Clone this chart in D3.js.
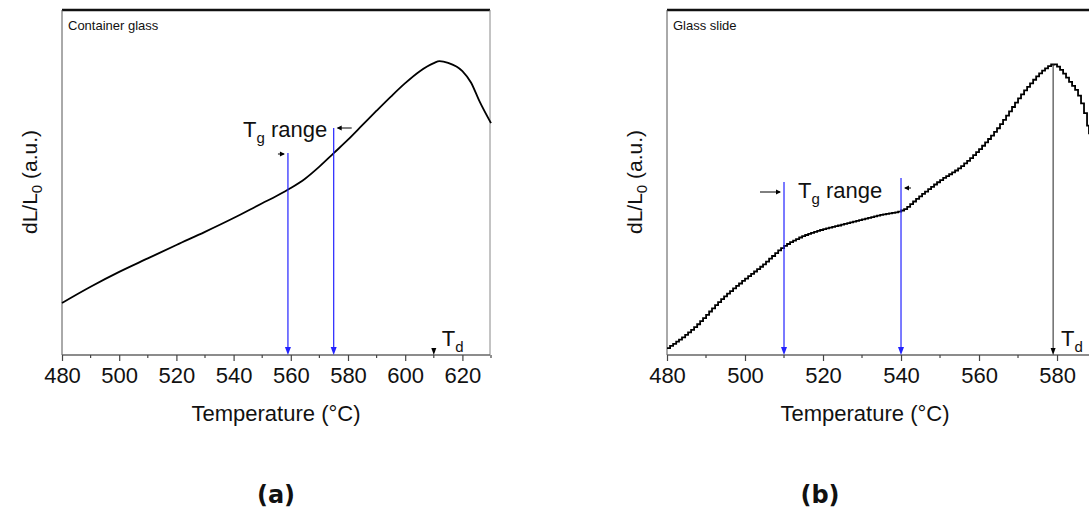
<!DOCTYPE html>
<html>
<head>
<meta charset="utf-8">
<script src="https://cdn.jsdelivr.net/npm/d3@7"></script>
<style>
    body { margin: 0; background: #fff; }
    svg { display: block; font-family: "Liberation Sans", Arial, sans-serif; }
</style>
</head>
<body>
<svg id="chart" width="1089" height="522"></svg>
<script>
// Panel (a) - container glass (arbitrary units)
const tempsA = [480, 490, 500, 510, 520, 530, 540, 550, 555, 560, 565, 570, 575, 580, 585, 590, 595, 600, 605, 610, 612, 615, 620, 623, 626, 630];
const valuesA = [15.1, 19.8, 24.1, 28.0, 31.9, 35.7, 39.7, 44.0, 46.1, 48.4, 51.1, 54.6, 58.5, 62.4, 66.6, 70.8, 74.9, 78.8, 82.2, 84.6, 85.2, 84.7, 82.3, 79.0, 73.5, 67.2];

// Panel (b) - glass slide
const tempsB = [480, 486.7, 493.6, 500.5, 503.8, 510, 513.6, 518, 524.4, 530, 534.6, 540.3, 544.1, 550, 555.1, 563.6, 572.3, 576.4, 579, 580.8, 583.3, 585.1, 586.7, 588.2];
const valuesB = [2.0, 7.8, 15.9, 22.6, 25.5, 31.6, 33.9, 35.8, 37.7, 39.3, 40.6, 42.0, 45.5, 50.7, 54.5, 64.3, 77.7, 82.6, 84.3, 82.6, 78.8, 75.9, 71.0, 64.0];

const xTicksA = [480, 500, 520, 540, 560, 580, 600, 620];
const xTicksB = [480, 500, 520, 540, 560, 580];

const tgRangeA = [559, 575];
const tgRangeB = [510, 540];
const tdA = 610;
const tdB = 579;

const svg = d3.select("#chart");

function drawPanel(cfg) {
    const x = d3.scaleLinear().domain(cfg.xDomain).range([cfg.left, cfg.right]);
    const y = d3.scaleLinear().domain([0, 100]).range([cfg.bottom, cfg.top]);
    const g = svg.append("g");

    // frame: black top, grey sides
    g.append("line")
        .attr("x1", cfg.left).attr("x2", cfg.frameRight)
        .attr("y1", cfg.top).attr("y2", cfg.top)
        .attr("stroke", "#111").attr("stroke-width", 2.5);
    g.append("line")
        .attr("x1", cfg.left).attr("x2", cfg.left)
        .attr("y1", cfg.top).attr("y2", cfg.bottom)
        .attr("stroke", "#555").attr("stroke-width", 1);
    if (cfg.rightBorder) {
        g.append("line")
            .attr("x1", cfg.frameRight).attr("x2", cfg.frameRight)
            .attr("y1", cfg.top).attr("y2", cfg.bottom)
            .attr("stroke", "#888").attr("stroke-width", 1);
    }

    // x axis with minor ticks
    const minor = d3.range(cfg.xDomain[0], cfg.xDomain[1] + 0.01, 10).filter(v => !cfg.ticks.includes(v));
    const xAxis = g.append("g")
        .attr("transform", `translate(0,${cfg.bottom})`)
        .call(d3.axisBottom(x).tickValues(cfg.ticks).tickSize(6).tickSizeOuter(0).tickPadding(6).tickFormat(d3.format("d")));
    xAxis.select(".domain").attr("stroke", "#666").attr("stroke-width", 1.6)
        .attr("d", `M${cfg.left},0H${cfg.frameRight}`);
    xAxis.selectAll(".tick line").attr("stroke", "#444").attr("stroke-width", 1.2);
    xAxis.selectAll(".tick text").attr("font-size", 22).attr("fill", "#111")
        .attr("font-family", "Liberation Sans, Arial, sans-serif");
    g.append("g").selectAll("line").data(minor).join("line")
        .attr("x1", d => x(d)).attr("x2", d => x(d))
        .attr("y1", cfg.bottom).attr("y2", cfg.bottom + 3)
        .attr("stroke", "#444").attr("stroke-width", 1.2);

    // curve
    const line = d3.line().x(d => x(d[0])).y(d => y(d[1])).curve(d3.curveMonotoneX);
    const pts = cfg.temps.map((t, i) => [t, cfg.values[i]]);
    if (!cfg.stepped) {
        g.append("path").attr("d", line(pts))
            .attr("fill", "none").attr("stroke", "#000").attr("stroke-width", 1.8);
    } else {
        // trace the smooth path, then redraw it as a staircase like the instrument output
        const tmp = g.append("path").attr("d", line(pts)).attr("fill", "none");
        const node = tmp.node();
        const len = node.getTotalLength();
        const steps = [];
        let nextX = cfg.left;
        for (let l = 0; l <= len; l += 0.25) {
            const p = node.getPointAtLength(l);
            if (p.x >= nextX) {
                steps.push([p.x, p.y]);
                nextX += 3;
            }
        }
        const end = node.getPointAtLength(len);
        steps.push([end.x, end.y]);
        tmp.remove();
        g.append("path")
            .attr("d", d3.line().curve(d3.curveStepAfter)(steps))
            .attr("fill", "none").attr("stroke", "#000").attr("stroke-width", 1.8);
    }

    // Tg range lines (blue) with down arrows
    cfg.tg.forEach((t, i) => {
        const xp = x(t);
        g.append("line")
            .attr("x1", xp).attr("x2", xp)
            .attr("y1", cfg.tgTops[i]).attr("y2", cfg.bottom - 6)
            .attr("stroke", "#2222ff").attr("stroke-width", 1.2);
        g.append("path")
            .attr("d", `M${xp - 3},${cfg.bottom - 8}L${xp + 3},${cfg.bottom - 8}L${xp},${cfg.bottom}Z`)
            .attr("fill", "#2222ff");
    });

    // small black arrows pointing at the Tg lines
    const arrows = g.append("g");
    const a0 = cfg.arrows[0], a1 = cfg.arrows[1];
    arrows.append("line").attr("x1", x(cfg.tg[0]) - a0.len).attr("x2", x(cfg.tg[0]) - 4)
        .attr("y1", a0.y).attr("y2", a0.y).attr("stroke", "#000").attr("stroke-width", 1);
    arrows.append("path")
        .attr("d", `M${x(cfg.tg[0]) - 8},${a0.y - 2.5}L${x(cfg.tg[0]) - 3},${a0.y}L${x(cfg.tg[0]) - 8},${a0.y + 2.5}Z`)
        .attr("fill", "#000");
    arrows.append("line").attr("x1", x(cfg.tg[1]) + 4).attr("x2", x(cfg.tg[1]) + a1.len)
        .attr("y1", a1.y).attr("y2", a1.y).attr("stroke", "#000").attr("stroke-width", 1);
    arrows.append("path")
        .attr("d", `M${x(cfg.tg[1]) + 8},${a1.y - 2.5}L${x(cfg.tg[1]) + 3},${a1.y}L${x(cfg.tg[1]) + 8},${a1.y + 2.5}Z`)
        .attr("fill", "#000");

    const tgText = g.append("text")
        .attr("x", cfg.tgLabel[0]).attr("y", cfg.tgLabel[1])
        .attr("font-size", 22).attr("fill", "#111");
    tgText.append("tspan").text("T");
    tgText.append("tspan").attr("font-size", 15).attr("dy", 6).text("g");
    tgText.append("tspan").attr("dy", -6).text(" range");

    // Td marker
    const xd = x(cfg.td);
    g.append("line").attr("x1", xd).attr("x2", xd)
        .attr("y1", cfg.tdTop).attr("y2", cfg.bottom - 5)
        .attr("stroke", "#222").attr("stroke-width", 1);
    g.append("path")
        .attr("d", `M${xd - 2.5},${cfg.bottom - 7}L${xd + 2.5},${cfg.bottom - 7}L${xd},${cfg.bottom}Z`)
        .attr("fill", "#000");
    const tdText = g.append("text")
        .attr("x", xd + 8).attr("y", cfg.bottom - 9)
        .attr("font-size", 22).attr("fill", "#111");
    tdText.append("tspan").text("T");
    tdText.append("tspan").attr("font-size", 15).attr("dy", 6).text("d");

    // sample name
    g.append("text").attr("x", cfg.left + 6).attr("y", cfg.top + 20)
        .attr("font-size", 13).attr("fill", "#111").text(cfg.name);

    // axis titles
    g.append("text")
        .attr("x", (cfg.left + cfg.axisTitleRight) / 2).attr("y", cfg.bottom + 66)
        .attr("text-anchor", "middle").attr("font-size", 22).attr("fill", "#111")
        .text("Temperature (\u00B0C)");
    const yl = g.append("text")
        .attr("transform", `translate(${cfg.left - 25},${cfg.yLabelMid}) rotate(-90)`)
        .attr("text-anchor", "middle").attr("font-size", 21).attr("fill", "#111");
    yl.append("tspan").text("dL/L");
    yl.append("tspan").attr("font-size", 15).attr("dy", 5).text("0");
    yl.append("tspan").attr("dy", -5).text(" (a.u.)");

    // panel letter
    svg.append("text")
        .attr("x", cfg.letterX).attr("y", 503)
        .attr("text-anchor", "middle").attr("font-size", 24).attr("font-weight", "bold")
        .attr("font-family", "DejaVu Sans, sans-serif").attr("fill", "#111")
        .text(cfg.letter);
}

drawPanel({
    name: "Container glass", letter: "(a)", letterX: 276,
    temps: tempsA, values: valuesA, ticks: xTicksA,
    xDomain: [480, 630], left: 62, right: 491, frameRight: 490, rightBorder: true,
    top: 10, bottom: 355, axisTitleRight: 490, yLabelMid: 182,
    tg: tgRangeA, tgTops: [153, 128], td: tdA, tdTop: 349,
    arrows: [{ y: 154, len: 10 }, { y: 128, len: 18 }],
    tgLabel: [243, 137], stepped: false
});

drawPanel({
    name: "Glass slide", letter: "(b)", letterX: 820,
    temps: tempsB, values: valuesB, ticks: xTicksB,
    xDomain: [480, 588.2], left: 667, right: 1089, frameRight: 1089, rightBorder: false,
    top: 10, bottom: 355, axisTitleRight: 1063, yLabelMid: 182,
    tg: tgRangeB, tgTops: [182, 178], td: tdB, tdTop: 64,
    arrows: [{ y: 192, len: 24 }, { y: 188, len: 10 }],
    tgLabel: [798, 198], stepped: true
});
</script>
</body>
</html>
